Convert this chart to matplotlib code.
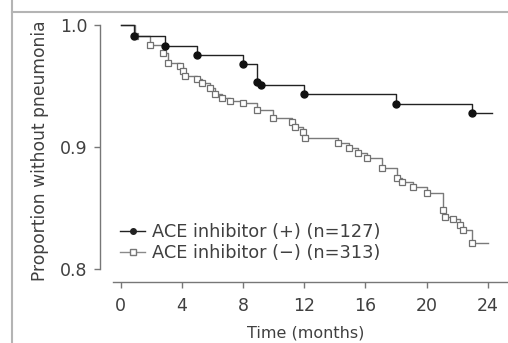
import matplotlib
matplotlib.use("Agg")
import matplotlib.pyplot as plt
from matplotlib.lines import Line2D

# ACE inhibitor (+): event times (months) and proportion without pneumonia
plus_t = [0, 0.9, 2.9, 5.0, 8.0, 8.9, 9.2, 12.0, 18.0, 23.0]
plus_s = [1.0, 0.991, 0.983, 0.975, 0.968, 0.953, 0.951, 0.943, 0.935, 0.928]
plus_end = 24.3

# ACE inhibitor (-)
minus_t = [0, 0.95, 1.9, 2.8, 3.1, 3.9, 4.1, 4.2, 5.0, 5.3, 5.85, 6.2, 6.6, 7.15,
           8.0, 8.9, 9.95, 11.2, 11.4, 11.95, 12.05, 14.2, 14.9, 15.5, 16.1, 17.1,
           18.1, 18.4, 19.1, 20.0, 21.1, 21.2, 21.7, 22.2, 22.4, 23.0]
minus_s = [1.0, 0.991, 0.984, 0.977, 0.969, 0.966, 0.962, 0.958, 0.956, 0.952,
           0.948, 0.943, 0.940, 0.938, 0.936, 0.930, 0.924, 0.920, 0.916, 0.912,
           0.907, 0.903, 0.899, 0.895, 0.891, 0.883, 0.874, 0.871, 0.867, 0.862,
           0.848, 0.842, 0.841, 0.836, 0.832, 0.821]
minus_end = 24.0

xticks = [0, 4, 8, 12, 16, 20, 24]
yticks = [0.8, 0.9, 1.0]
yticklabels = ["0.8", "0.9", "1.0"]
labels = ["ACE inhibitor (+) (n=127)", "ACE inhibitor (\u2212) (n=313)"]

plt.rcParams["font.family"] = ["DejaVu Sans"]
txt = "#404040"

fig = plt.figure(figsize=(5.08, 3.43), dpi=100)
ax = fig.add_axes([0.1969, 0.1778, 0.8084, 0.767])

ax.step(minus_t + [minus_end], minus_s + [minus_s[-1]], where="post", color="#7a7a7a", lw=1.0)
ax.plot(minus_t[1:], minus_s[1:], ls="none", marker="s", ms=4.5, mfc="white", mec="#707070", mew=0.9)
ax.step(plus_t + [plus_end], plus_s + [plus_s[-1]], where="post", color="#222222", lw=1.0)
ax.plot(plus_t[1:], plus_s[1:], ls="none", marker="o", ms=5, color="#111111")

ax.set_xlim(-1.34, 25.5)
ax.set_ylim(0.789, 1.005)
ax.set_xticks(xticks)
ax.set_yticks(yticks)
ax.set_yticklabels(yticklabels)
ax.spines["top"].set_visible(False)
ax.spines["right"].set_visible(False)
ax.spines["left"].set_bounds(0.8, 1.0)
ax.spines["bottom"].set_bounds(-0.5, 25.5)
for sp in ("left", "bottom"):
    ax.spines[sp].set_color("#777777")
    ax.spines[sp].set_linewidth(1.0)
ax.tick_params(colors="#777777", labelcolor=txt, labelsize=12.5, length=4, width=1.0)
ax.tick_params(axis="x", pad=7)
ax.tick_params(axis="y", pad=5)

ax.set_xlabel("Time (months)", fontsize=11.5, color=txt, labelpad=7)
ax.set_ylabel("Proportion without pneumonia", fontsize=12.3, color=txt, labelpad=8)

handles = [
    Line2D([], [], color="#222222", lw=1.0, marker="o", ms=4, markevery=[0, 1]),
    Line2D([], [], color="#8a8a8a", lw=1.0, marker="s", ms=4, mfc="white", mec="#777777", markevery=[0, 1]),
]
ax.legend(handles, labels, loc="upper left", bbox_to_anchor=(0.032, 0.25),
          frameon=False, fontsize=12.8, handlelength=1.4, handletextpad=0.4,
          labelspacing=0.15, labelcolor=txt, borderaxespad=0.0)

# outer frame of the original figure
fig.add_artist(Line2D([12 / 508, 12 / 508], [0, 1], transform=fig.transFigure, color="#b4b4b4", lw=1.5))
fig.add_artist(Line2D([12 / 508, 1], [1 - 12 / 343, 1 - 12 / 343], transform=fig.transFigure, color="#b4b4b4", lw=1.5))

fig.savefig("out.png", dpi=100)
